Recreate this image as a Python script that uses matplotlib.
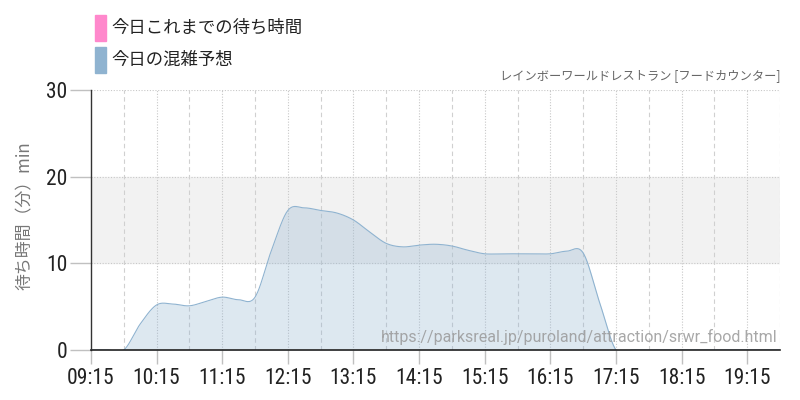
import numpy as np
import matplotlib
matplotlib.use("Agg")
import matplotlib.pyplot as plt
from matplotlib import font_manager as fm

# ---- data ----
times = ["09:15","09:30","09:45","10:00","10:15","10:30","10:45","11:00","11:15","11:30","11:45",
         "12:00","12:15","12:30","12:45","13:00","13:15","13:30","13:45","14:00","14:15","14:30",
         "14:45","15:00","15:15","15:30","15:45","16:00","16:15","16:30","16:45","17:00","17:15",
         "17:30","17:45","18:00","18:15","18:30","18:45","19:00","19:15","19:30","19:45"]
forecast = [0, 0, 0, 3.0, 5.2, 5.3, 5.1, 5.6, 6.1, 5.8, 6.1,
            11.5, 16.1, 16.4, 16.1, 15.8, 15.0, 13.6, 12.3, 11.9, 12.1, 12.2,
            12.0, 11.5, 11.1, 11.1, 11.1, 11.1, 11.1, 11.4, 11.2, 5.5, 0,
            0, 0, 0, 0, 0, 0, 0, 0, 0, 0]
xtick_labels = ["09:15","10:15","11:15","12:15","13:15","14:15","15:15","16:15","17:15","18:15","19:15"]
yticks = [0, 10, 20, 30]
legend_labels = ["今日これまでの待ち時間", "今日の混雑予想"]
legend_colors = ["#ff88cc", "#8fb3d0"]
title = "レインボーワールドレストラン [フードカウンター]"
ylabel = "待ち時間（分）min"
url = "https://parksreal.jp/puroland/attraction/srwr_food.html"

def to_min(t):
    h, m = t.split(":")
    return (int(h) - 9) * 60 + int(m) - 15

x = np.array([to_min(t) for t in times], dtype=float)
y = np.array(forecast, dtype=float)

# Catmull-Rom smoothing for drawing
def smooth(x, y, n=20):
    xs, ys = [], []
    m = np.zeros_like(y)
    m[1:-1] = (y[2:] - y[:-2]) / 2
    for i in range(len(x) - 1):
        t = np.linspace(0, 1, n, endpoint=False)
        h00 = 2*t**3 - 3*t**2 + 1
        h10 = t**3 - 2*t**2 + t
        h01 = -2*t**3 + 3*t**2
        h11 = t**3 - t**2
        xs.append(x[i] + t*(x[i+1]-x[i]))
        ys.append(h00*y[i] + h10*m[i] + h01*y[i+1] + h11*m[i+1])
    xs.append([x[-1]]); ys.append([y[-1]])
    return np.concatenate(xs), np.concatenate(ys)

xs, ys = smooth(x, y)

avail = {f.name for f in fm.fontManager.ttflist}
cond = None
for cand in ["Roboto Condensed", "Liberation Sans Narrow", "DejaVu Sans Condensed"]:
    if cand in avail:
        cond = cand
        break
num_family = [cond] if cond else ["Roboto"]
jp = ["Noto Sans CJK JP", "DejaVu Sans"]

fig = plt.figure(figsize=(8, 4), dpi=100)
ax = fig.add_axes([91/800, 50/400, 689/800, 260/400])
ax.set_xlim(0, 630)
ax.set_ylim(0, 30)

ax.axhspan(10, 20, color="#f2f2f2", zorder=0)
for v in [10, 20, 30]:
    ax.axhline(v, color="#c8c8c8", lw=0.8, ls=(0, (1, 1.5)), zorder=1)
for k in range(0, 631, 30):
    if k == 0:
        continue
    if (k // 30) % 2 == 0:
        ax.axvline(k, color="#c8c8c8", lw=0.8, ls=(0, (1, 1.5)), zorder=1)
    else:
        ax.axvline(k, color="#d0d0d0", lw=0.8, ls=(0, (4, 3)), zorder=1)

ax.fill_between(xs, ys, 0, color="#8fb3d0", alpha=0.3, lw=0, zorder=2)
ax.plot(xs, ys, color="#8fb3d0", lw=0.8, zorder=3)

ax.spines["top"].set_visible(False)
ax.spines["right"].set_visible(False)
ax.spines["left"].set_color("#333333")
ax.spines["bottom"].set_color("#222222")
ax.spines["left"].set_linewidth(1.0)
ax.spines["bottom"].set_linewidth(1.2)
ax.spines["bottom"].set_zorder(4)

ax.set_yticks(yticks)
ax.set_yticklabels([str(v) for v in yticks], family=num_family, fontsize=15.5, color="#222222")
ax.set_xticks([to_min(t) for t in xtick_labels])
ax.set_xticklabels(xtick_labels, family=num_family, fontsize=15.5, color="#222222")
ax.tick_params(axis="y", length=15, color="#c0c0c0", width=1, pad=2)
ax.tick_params(axis="x", length=10, color="#c0c0c0", width=1, pad=3)

fig.text(25/800, 1 - 216/400, ylabel, rotation=90, ha="center", va="center",
         fontsize=12.2, color="#777777", family=jp)

for i, (lab, col) in enumerate(zip(legend_labels, legend_colors)):
    yc = 28 + i * 32
    fig.patches.append(plt.Rectangle((95/800, 1 - (yc + 13)/400), 11/800, 26/400,
                                     transform=fig.transFigure, color=col, figure=fig))
    fig.text(111/800, 1 - yc/400, lab, ha="left", va="center", fontsize=12.5,
             color="#222222", family=jp)

fig.text(780/800, 1 - 76/400, title, ha="right", va="center", fontsize=8.8,
         color="#666666", family=jp)

fig.text(778/800, 1 - 337/400, url, ha="right", va="center", fontsize=11.5,
         color="#999999", alpha=0.85, family=["Roboto", "DejaVu Sans"], zorder=10)

fig.savefig("out.png", dpi=100)
